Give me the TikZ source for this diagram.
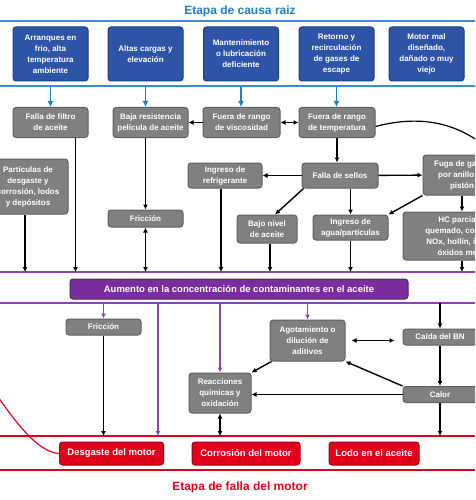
\documentclass[tikz,border=0pt]{standalone}
\usepackage{fontspec}
\setmainfont{Liberation Sans}
\usepackage{tikz}
\usetikzlibrary{arrows.meta,positioning,calc}
\definecolor{ttlblue}{HTML}{1E7FC6}
\definecolor{bandblue}{HTML}{3C8DD0}
\definecolor{boxblue}{HTML}{2E54A8}
\definecolor{edgeblue}{HTML}{1F3B7A}
\definecolor{boxgray}{HTML}{808080}
\definecolor{edgegray}{HTML}{606060}
\definecolor{boxpurple}{HTML}{7A2D9C}
\definecolor{linepurple}{HTML}{8E44AD}
\definecolor{boxred}{HTML}{E3001B}

\begin{document}
\begin{tikzpicture}[x=1pt,y=-1pt,>={Latex[length=5pt,width=5pt]}]
\tikzstyle{bx}=[rounded corners=3pt,align=center,inner sep=1pt,text=white,
  font=\bfseries\fontsize{8}{11}\selectfont,line width=1pt]
\tikzstyle{blu}=[bx,fill=boxblue,draw=edgeblue,minimum width=75pt,minimum height=54pt]
\tikzstyle{gry}=[bx,fill=boxgray,draw=edgegray]
\tikzstyle{rd}=[bx,fill=boxred,draw=boxred!70!black,minimum height=23pt,
  font=\bfseries\fontsize{9.5}{11}\selectfont]
\tikzstyle{ar}=[->,line width=1.4pt]
\tikzstyle{dar}=[<->,line width=1.4pt]
\tikzstyle{barr}=[->,line width=1.5pt,draw=ttlblue,>={Latex[length=6pt,width=6pt]}]
\tikzstyle{parr}=[->,line width=1.5pt,draw=linepurple]
\clip (0,0) rectangle (475,500);
\fill[white] (0,0) rectangle (475,500);

% band lines
\coordinate (btop) at (0,21);
\coordinate (bbot) at (0,86);
\coordinate (ptop) at (0,272);
\coordinate (pbot) at (0,303);
\coordinate (rtop) at (0,436);
\coordinate (rbot) at (0,470);
\draw[bandblue,line width=1.2pt] (btop) -- ++(475,0);
\draw[bandblue,line width=1.2pt] (bbot) -- ++(475,0);
\draw[linepurple,line width=1.5pt] (ptop) -- ++(475,0);
\draw[linepurple,line width=1.5pt] (pbot) -- ++(475,0);
\draw[boxred,line width=1.2pt] (rtop) -- ++(475,0);
\draw[boxred,line width=1.2pt] (rbot) -- ++(475,0);

% titles
\node[text=ttlblue,font=\bfseries\fontsize{12}{14}\selectfont] (t1) at (240,11) {Etapa de causa raiz};
\node[text=boxred,font=\bfseries\fontsize{12}{14}\selectfont] (t2) at (240,487) {Etapa de falla del motor};

% root causes
\node[blu] (b1) at (50.5,54) {Arranques en\\frio, alta\\temperatura\\ambiente};
\node[blu] (b2) at (145.5,54) {Altas cargas y\\elevación};
\node[blu] (b3) at (241,54) {Mantenimiento\\o lubricación\\deficiente};
\node[blu] (b4) at (336.5,54) {Retorno y\\recirculación\\de gases de\\escape};
\node[blu] (b5) at (426.5,54) {Motor mal\\diseñado,\\dañado o muy\\viejo};

% middle boxes
\node[gry,minimum width=75pt,minimum height=30pt] (filtro) at (50.5,122.5) {Falla de filtro\\de aceite};
\node[gry,minimum width=75pt,minimum height=30pt] (baja) at (150.5,122.5) {Baja resistencia\\película de aceite};
\node[gry,minimum width=77pt,minimum height=30pt] (visc) at (241.5,122.5) {Fuera de rango\\de viscosidad};
\node[gry,minimum width=76pt,minimum height=30pt] (temp) at (337,122.5) {Fuera de rango\\de temperatura};
\node[gry,minimum width=80pt,minimum height=55pt] (part) at (28,186.5) {Partículas de\\desgaste y\\corrosión, lodos\\y depósitos};
\node[gry,minimum width=75pt,minimum height=17pt] (fric1) at (145.5,218.5) {Fricción};
\node[gry,minimum width=74pt,minimum height=25pt] (refri) at (225,175.5) {Ingreso de\\refrigerante};
\node[gry,minimum width=76pt,minimum height=25pt] (sellos) at (340,175.5) {Falla de sellos};
\node[gry,minimum width=78pt,minimum height=40pt] (fuga) at (462,175) {Fuga de gases\\por anillo de\\pistón};
\node[gry,minimum width=60pt,minimum height=28pt] (bajo) at (267,229) {Bajo nivel\\de aceite};
\node[gry,minimum width=75pt,minimum height=25pt] (agua) at (350.5,227.5) {Ingreso de\\agua/partículas};
\node[gry,minimum width=134pt,minimum height=48pt] (hc) at (470,236) {HC parcialmente\\quemado, combustible,\\NOx, hollín, ingreso de\\óxidos metálicos};

\node[bx,fill=boxpurple,draw=boxpurple!70!black,minimum width=338pt,minimum height=20pt,
  font=\bfseries\fontsize{9.5}{11}\selectfont] (aum) at (239,289) {Aumento en la concentración de contaminantes en el aceite};

% lower boxes
\node[gry,minimum width=75pt,minimum height=16pt] (fric2) at (103.5,327) {Fricción};
\node[gry,minimum width=75pt,minimum height=41pt] (agot) at (307.5,340.5) {Agotamiento o\\dilución de\\aditivos};
\node[gry,minimum width=62pt,minimum height=40pt] (reac) at (220,393) {Reacciones\\químicas y\\oxidación};
\node[gry,minimum width=74pt,minimum height=16pt] (bn) at (440,337) {Caída del BN};
\node[gry,minimum width=74pt,minimum height=16pt] (calor) at (440,394.5) {Calor};

% failure modes
\node[rd,minimum width=104pt] (desg) at (111.5,453.5) {Desgaste del motor};
\node[rd,minimum width=108pt] (corr) at (246,453.5) {Corrosión del motor};
\node[rd,minimum width=90pt] (lodo) at (374,453.5) {Lodo en el aceite};

% blue arrows
\draw[barr] (b1.south |- bbot) -- (b1.south |- filtro.north);
\draw[barr] (b2.south |- bbot) -- (b2.south |- baja.north);
\draw[barr] (b3.south |- bbot) -- (b3.south |- visc.north);
\draw[barr] (b4.south |- bbot) -- (b4.south |- temp.north);

% upper connectors
\draw[ar] (visc) -- (baja);
\draw[dar] (visc) -- (temp);
\draw[ar] (temp.south) -- (temp.south |- sellos.north);
\coordinate (offr) at (500,160);
\draw[line width=1.2pt] ([yshift=-4pt]temp.east) .. controls (430,112) and (470,128) .. (offr);
\draw[ar] (sellos) -- (refri);
\draw[ar] (sellos) -- (fuga);
\draw[ar] ([xshift=2pt]sellos.south west) -- ([xshift=8pt]bajo.north);
\draw[ar] (agua.north |- sellos.south) -- (agua.north);
\draw[ar] (fuga.south west) -- (agua.north east);
\draw[ar] (fuga.south) -- (fuga.south |- hc.north);
\draw[ar] (fuga.south |- hc.south) -- (fuga.south |- ptop);
\draw[ar] ([xshift=3pt]bajo.south) -- ([xshift=3pt]bajo.south |- ptop);
\draw[ar] (agua.south) -- (agua.south |- ptop);
\draw[ar] ([xshift=-4pt]refri.south) -- ([xshift=-4pt]refri.south |- ptop);
\draw[ar] ([xshift=-3pt]part.south) -- ([xshift=-3pt]part.south |- ptop);
\draw[ar] ([xshift=25pt]filtro.south) -- ([xshift=25pt]filtro.south |- ptop);
\draw[ar] (fric1.north |- baja.south) -- (fric1.north);
\draw[dar] (fric1.south) -- (fric1.south |- ptop);

% lower connectors
\coordinate (pv) at (158,303);
\draw[parr] (fric2.north |- pbot) -- (fric2.north);
\draw[parr] (pv) -- (pv |- rtop);
\draw[parr] (reac.north |- pbot) -- (reac.north);
\draw[parr] (agot.north |- pbot) -- (agot.north);
\draw[ar] (bn.north |- pbot) -- (bn.north);
\draw[dar] ([xshift=6pt]agot.east) -- ([xshift=-8pt]agot.east -| bn.west);
\draw[ar] (bn) -- (calor);
\draw[ar] (calor.north west) -- (agot.south east);
\draw[ar] (calor.west) -- (calor.west -| reac.east);
\draw[ar] ([xshift=2pt]agot.south west) -- (reac.north east);
\draw[ar] (calor.south) -- (calor.south |- rtop);
\draw[dar] (reac.south) -- (reac.south |- rtop);
\draw[ar] (fric2.south) -- (fric2.south |- rtop);
\coordinate (rc) at (-10,385);
\draw[boxred,line width=1.2pt] (rc) .. controls (20,430) and (40,452) .. (desg.west);
\end{tikzpicture}
\end{document}
